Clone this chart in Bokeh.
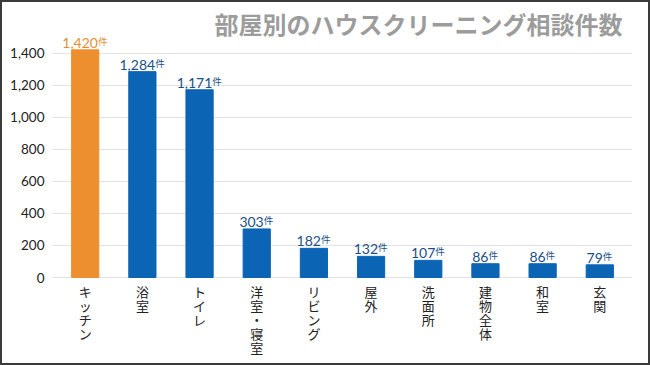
from bokeh.plotting import figure
from bokeh.models import ColumnDataSource, FixedTicker, NumeralTickFormatter, Label
from bokeh.core.properties import value
from bokeh.embed import file_html
from bokeh.resources import INLINE

# ---- data ----
categories = ["キッチン", "浴室", "トイレ", "洋室・寝室", "リビング", "屋外", "洗面所", "建物全体", "和室", "玄関"]
counts = [1420, 1284, 1171, 303, 182, 132, 107, 86, 86, 79]
y_ticks = [0, 200, 400, 600, 800, 1000, 1200, 1400]
title_text = "部屋別のハウスクリーニング相談件数"
unit_text = "件"
y_axis_title = "件数"

ORANGE = "#EE8F2F"
BLUE = "#0B64B4"
LABEL_ORANGE = "#E09032"
LABEL_NAVY = "#1B4F85"
JP = "Noto Sans CJK JP"

idx = list(range(len(categories)))
bar_colors = [ORANGE if i == 0 else BLUE for i in idx]
label_colors = [LABEL_ORANGE if i == 0 else LABEL_NAVY for i in idx]
num_labels = [f"{c:,}" for c in counts]
cat_labels = ["\n".join(c) for c in categories]


def num_width(s):
    return sum(3.5 if ch == "," else 8.0 for ch in s)


offsets = [num_width(s) / 2 - 5 for s in num_labels]

src = ColumnDataSource(dict(x=idx, top=counts, color=bar_colors, lcolor=label_colors,
                            num=num_labels, unit=[unit_text] * len(idx), off=offsets,
                            base=[0] * len(idx), cat=cat_labels))

p = figure(width=646, height=361, output_backend="svg", toolbar_location=None,
           x_axis_location=None,
           x_range=(-0.572, 9.572), y_range=(-561.3, 1715.3),
           min_border_left=50, min_border_right=20, min_border_top=0, min_border_bottom=0)
p.styles = {"border": "2px solid #3a3a3a", "box-sizing": "content-box"}
p.outline_line_color = None
p.background_fill_color = "white"

p.vbar(x="x", top="top", width=0.476, bottom=0, color="color", source=src)

p.text(x="x", y="top", text="num", source=src, text_align="right", text_baseline="bottom",
       x_offset="off", y_offset=-2, text_color="lcolor", text_font=value("Lato"),
       text_font_size="14px")
p.text(x="x", y="top", text="unit", source=src, text_align="left", text_baseline="bottom",
       x_offset="off", y_offset=-2, text_color="lcolor", text_font=value(JP),
       text_font_size="9.5px")

# category labels, stacked vertically
p.text(x="x", y="base", text="cat", source=src, text_align="center", text_baseline="top",
       y_offset=4, text_color="#222222", text_font=value(JP), text_font_size="13px",
       text_line_height=0.74)

# axes
p.xgrid.grid_line_color = None
p.ygrid.grid_line_color = "#e3e3e3"
p.ygrid.grid_line_width = 1
p.yaxis.ticker = FixedTicker(ticks=y_ticks)
p.yaxis.formatter = NumeralTickFormatter(format="0,0")
p.yaxis.axis_line_color = None
p.yaxis.major_tick_line_color = None
p.yaxis.minor_tick_line_color = None
p.yaxis.major_label_standoff = 2
p.yaxis.major_label_text_font = "Lato"
p.yaxis.major_label_text_font_size = "13.5px"
p.yaxis.major_label_text_color = "#222222"

p.add_layout(Label(x=570, y=344, x_units="screen", y_units="screen", text=title_text,
                   text_align="right", text_baseline="middle", text_font=JP,
                   text_font_style="bold", text_font_size="24px", text_color="#9c9c9c"))
p.add_layout(Label(x=-23, y=336, x_units="screen", y_units="screen", text=y_axis_title,
                   text_align="center", text_baseline="middle", text_font=JP,
                   text_font_size="13px", text_color="#222222"))

open("out.html", "w").write(file_html(p, INLINE))
